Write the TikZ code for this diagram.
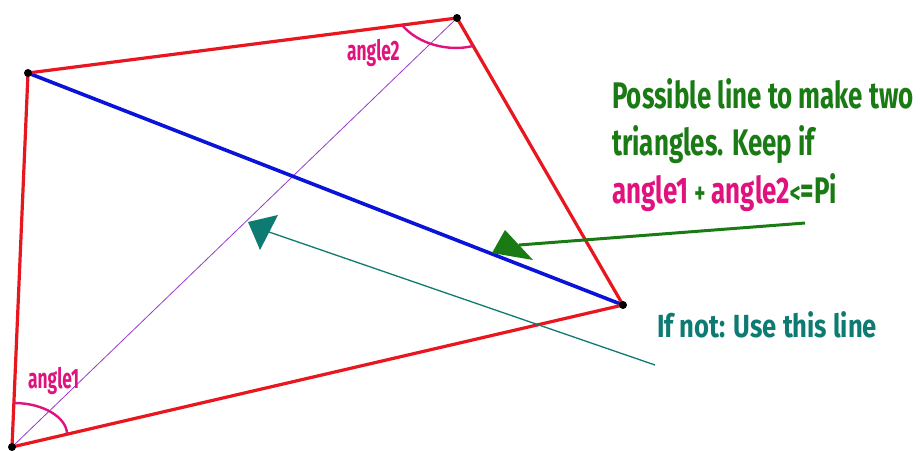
\documentclass[tikz,border=0pt]{standalone}
\usepackage{fontspec}
\newfontfamily\lblfont[FakeStretch=0.70]{Fira Sans}
\newfontfamily\tealfont[FakeStretch=0.80]{Fira Sans}
\newfontfamily\angfont[FakeStretch=0.62]{Fira Sans}
\definecolor{qred}{RGB}{232,22,30}
\definecolor{qblue}{RGB}{10,20,216}
\definecolor{qpurple}{RGB}{150,60,205}
\definecolor{qmag}{RGB}{224,19,126}
\definecolor{qgreen}{RGB}{26,122,20}
\definecolor{qteal}{RGB}{14,123,115}
\begin{document}
\begin{tikzpicture}[x=1pt,y=-1pt,
  edge/.style={qred,line width=3.2pt,line cap=round},
  vtx/.style={circle,fill=black,inner sep=0pt,minimum size=8pt},
  anglearc/.style={qmag,line width=2.4pt},
  gtext/.style={anchor=base west,inner sep=0pt,text=qgreen,font=\lblfont\bfseries\fontsize{37}{40}\selectfont},
  ttext/.style={anchor=base west,inner sep=0pt,text=qteal,font=\tealfont\bfseries\fontsize{32}{36}\selectfont},
  mtext/.style={anchor=base west,inner sep=0pt,text=qmag,font=\angfont\bfseries\fontsize{28}{30}\selectfont}]
\useasboundingbox[fill=white] (0,0) rectangle (920,450);
% vertices
\coordinate (A) at (28,73);
\coordinate (B) at (457,18);
\coordinate (C) at (623,305);
\coordinate (D) at (12,447);
% diagonals
\draw[qpurple,line width=0.8pt] (D) -- (B);
\draw[qblue,line width=3.6pt] (A) -- (C);
% quadrilateral
\draw[edge] (A) -- (B) -- (C) -- (D) -- cycle;
% angle arcs
\draw[anglearc] (14,403) .. controls (44,403) and (67,418) .. (67,434);
\draw[anglearc] (402,25) .. controls (418,44) and (448,52) .. (473,46);
% vertex dots
\node[vtx] (vA) at (A) {};
\node[vtx] (vB) at (B) {};
\node[vtx] (vC) at (C) {};
\node[vtx] (vD) at (D) {};
% angle labels
\node[mtext] (l1) at (28,388) {angle1};
\node[mtext] (l2) at (347,60) {angle2};
% green arrow
\coordinate (g0) at (805,223);
\coordinate (gT) at (492,253);
\coordinate (gB) at (519,245);
\draw[qgreen,line width=3pt] (g0) -- (gB);
\fill[qgreen] (gT) -- (505,230) -- (533,260) -- cycle;
% teal arrow
\coordinate (t0) at (655,365);
\coordinate (tT) at (248,222);
\coordinate (tB) at (269,232);
\draw[qteal,line width=1.3pt] (t0) -- (tB);
\fill[qteal] (tT) -- (278,215) -- (260,250) -- cycle;
% texts
\node[gtext] (p1) at (612,108) {Possible line to make two};
\node[gtext] (p2) at (612,155) {triangles. Keep if};
\node[gtext] (p3) at (612,203) {\textcolor{qmag}{angle1}\,{\fontsize{30}{32}\selectfont +}\,\textcolor{qmag}{angle2}{\fontsize{30}{32}\selectfont <}=Pi};
\node[ttext] (q1) at (657,337) {If not: Use this line};
\end{tikzpicture}
\end{document}
